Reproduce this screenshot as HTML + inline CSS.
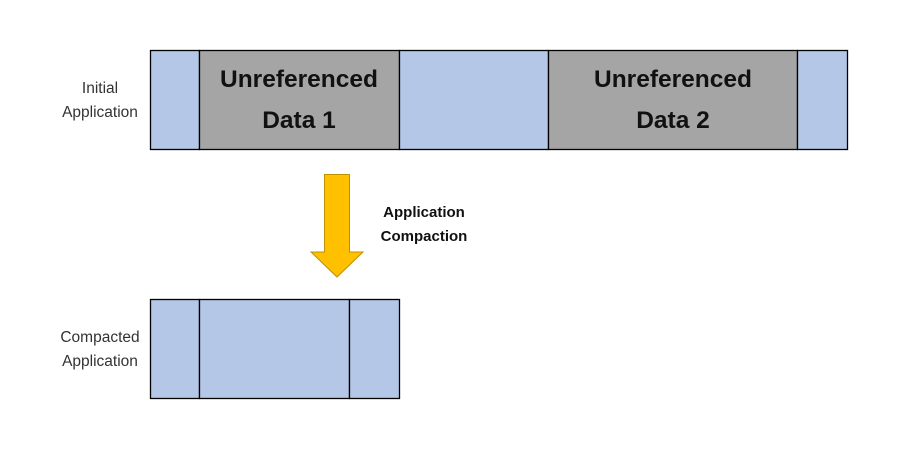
<!DOCTYPE html>
<html><head><meta charset="utf-8"><style>
html,body{margin:0;padding:0;background:#fff;width:899px;height:450px;overflow:hidden}
svg text{font-family:"Liberation Sans","Noto Sans CJK JP",sans-serif}
</style></head><body>
<svg width="899" height="450" viewBox="0 0 899 450" xmlns="http://www.w3.org/2000/svg">
<g stroke="#000" stroke-width="1.3">
<rect x="150.5" y="50.5" width="49" height="99" fill="#b4c7e7"/>
<rect x="199.5" y="50.5" width="200" height="99" fill="#a5a5a5"/>
<rect x="399.5" y="50.5" width="149" height="99" fill="#b4c7e7"/>
<rect x="548.5" y="50.5" width="249" height="99" fill="#a5a5a5"/>
<rect x="797.5" y="50.5" width="50" height="99" fill="#b4c7e7"/>
<rect x="150.5" y="299.5" width="49" height="99" fill="#b4c7e7"/>
<rect x="199.5" y="299.5" width="150" height="99" fill="#b4c7e7"/>
<rect x="349.5" y="299.5" width="50" height="99" fill="#b4c7e7"/>
</g>
<polygon points="324.5,174.5 349.5,174.5 349.5,252 363,252 337,277 311,252 324.5,252" fill="#ffc000" stroke="#bf9000" stroke-width="1"/>
<g font-weight="bold" font-size="24.5" fill="#111" text-anchor="middle">
<text x="299" y="87">Unreferenced</text>
<text x="299" y="128">Data 1</text>
<text x="673" y="87">Unreferenced</text>
<text x="673" y="128">Data 2</text>
</g>
<g font-weight="bold" font-size="15" fill="#111" text-anchor="middle">
<text x="424" y="217">Application</text>
<text x="424" y="241">Compaction</text>
</g>
<g font-size="15.5" fill="#333" text-anchor="middle">
<text x="100" y="93">Initial</text>
<text x="100" y="117">Application</text>
<text x="100" y="342">Compacted</text>
<text x="100" y="366">Application</text>
</g>
</svg>
</body></html>
